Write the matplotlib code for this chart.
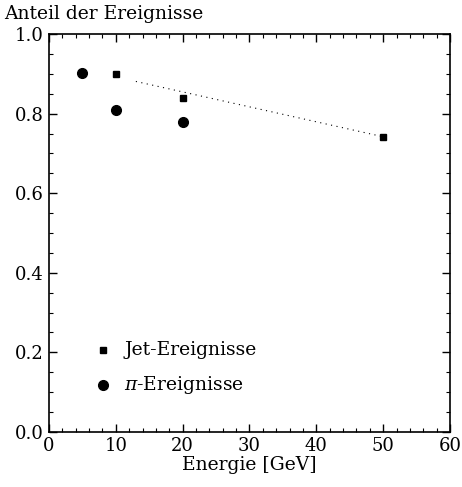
import numpy as np
import matplotlib
matplotlib.use('Agg')
import matplotlib.pyplot as plt
from matplotlib.ticker import MultipleLocator

plt.rcParams['font.family'] = ['DejaVu Serif']
plt.rcParams['mathtext.fontset'] = 'dejavuserif'

# Anteil der Ereignisse vs. Energie
e_jet = [10, 20, 50]
f_jet = [0.900, 0.840, 0.742]
e_pi = [5, 10, 20]
f_pi = [0.903, 0.808, 0.779]
# gepunktete Ausgleichsgerade durch die Jet-Punkte
fit_e = [13, 50]
fit_f = [0.881, 0.742]

fs = 13.5

fig = plt.figure(figsize=(4.62, 4.87), dpi=100)
ax = fig.add_axes([0.106, 0.113, 0.868, 0.817])

ax.plot(fit_e, fit_f, color='k', lw=0.8, ls=(0, (1, 4)))
ax.plot(e_jet, f_jet, 's', color='k', ms=5)
ax.plot(e_pi, f_pi, 'o', color='k', ms=7)

# Legende von Hand im Datenraum
ax.plot([8.1], [0.206], 's', color='k', ms=5)
ax.plot([8.1], [0.118], 'o', color='k', ms=7)
ax.text(11.3, 0.206, 'Jet-Ereignisse', fontsize=fs, va='center')
ax.text(11.3, 0.118, '$\\pi$-Ereignisse', fontsize=fs, va='center')

ax.set_xlim(0, 60)
ax.set_ylim(0, 1.0)
ax.xaxis.set_major_locator(MultipleLocator(10))
ax.xaxis.set_minor_locator(MultipleLocator(2))
ax.yaxis.set_major_locator(MultipleLocator(0.2))
ax.yaxis.set_minor_locator(MultipleLocator(0.05))
ax.yaxis.set_major_formatter(plt.FormatStrFormatter('%.1f'))
ax.tick_params(which='both', direction='in', top=True, right=True, labelsize=13)
ax.tick_params(which='major', length=6, width=1)
ax.tick_params(which='minor', length=3, width=0.8)
for s in ax.spines.values():
    s.set_linewidth(1.2)

ax.set_xlabel('Energie [GeV]', fontsize=fs, labelpad=1)
fig.text(0.009, 0.971, 'Anteil der Ereignisse', fontsize=fs, va='center', ha='left')

fig.savefig('out.png', dpi=100)
